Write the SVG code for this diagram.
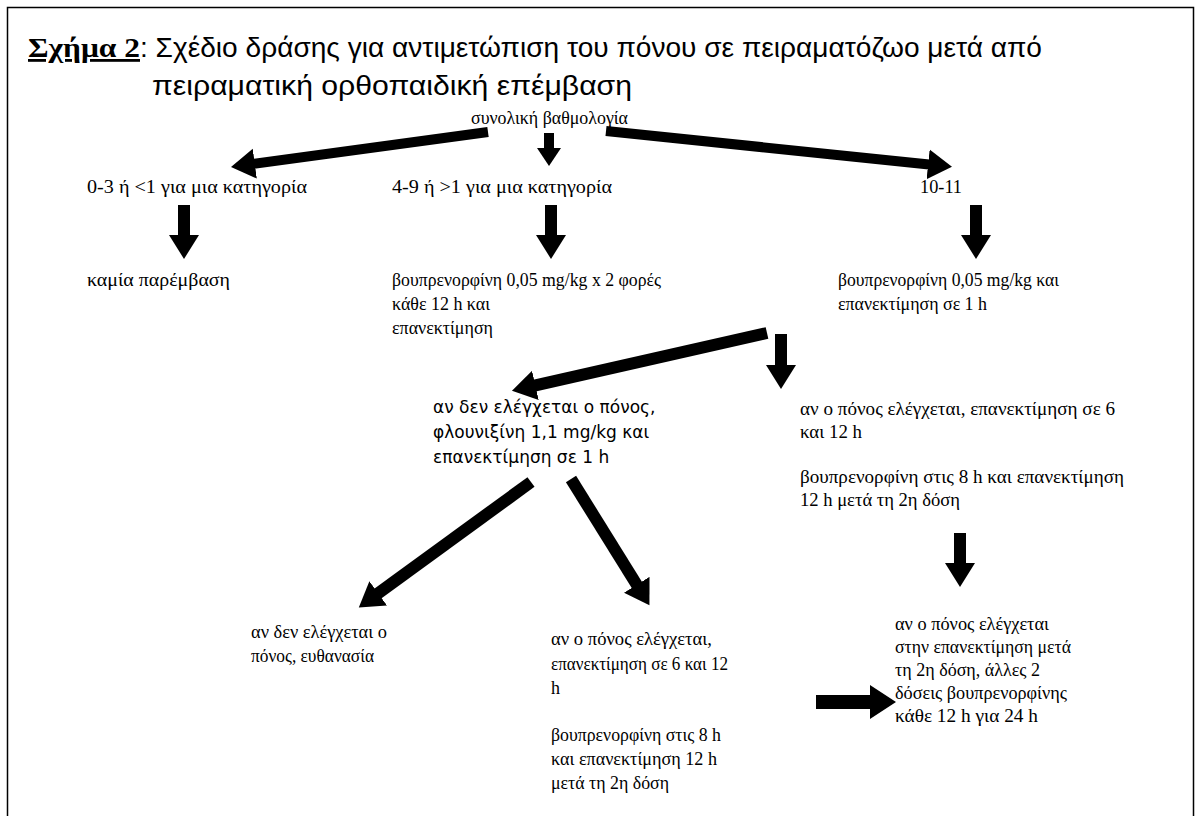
<svg xmlns="http://www.w3.org/2000/svg" width="1203" height="816" viewBox="0 0 1203 816">
<style>
.t{font-family:"Liberation Serif","DejaVu Serif","Times New Roman",serif;font-size:18px;fill:#000}
.v{font-family:"DejaVu Sans",Verdana,sans-serif;font-size:17px;fill:#000}
.ttl{font-family:"Liberation Sans",Arial,sans-serif;font-size:28px;fill:#000}
.tb{font-family:"Liberation Serif","DejaVu Serif",serif;font-size:28px;font-weight:bold;text-decoration:underline}
.c line{stroke:#000;fill:none}
</style>
<defs>
<marker id="hb" markerUnits="userSpaceOnUse" markerWidth="26" markerHeight="32" refX="1" refY="16" orient="auto" viewBox="0 0 26 32"><path d="M0,1 L24,16 L0,31 z" fill="#000"/></marker>
<marker id="hs" markerUnits="userSpaceOnUse" markerWidth="20" markerHeight="26" refX="1" refY="13" orient="auto" viewBox="0 0 20 26"><path d="M0,1 L18,13 L0,25 z" fill="#000"/></marker>
<marker id="hh" markerUnits="userSpaceOnUse" markerWidth="28" markerHeight="36" refX="1" refY="18" orient="auto" viewBox="0 0 28 36"><path d="M0,1 L26,18 L0,35 z" fill="#000"/></marker>
</defs>
<rect x="0" y="0" width="1203" height="816" fill="#fff"/>
<path d="M7.5,816 V7.5 H1193.5 V816" fill="none" stroke="#000" stroke-width="1.5"/>
<g id="title">
<text class="tb" x="28" y="57" textLength="112" lengthAdjust="spacingAndGlyphs">Σχήμα 2</text>
<text class="ttl" x="140" y="57" textLength="902" lengthAdjust="spacingAndGlyphs">: Σχέδιο δράσης για αντιμετώπιση του πόνου σε πειραματόζωο μετά από</text>
<text class="ttl" x="152" y="95" textLength="480" lengthAdjust="spacingAndGlyphs">πειραματική ορθοπαιδική επέμβαση</text>
</g>
<g class="c" id="connectors">
<line x1="488" y1="132" x2="253.8" y2="163.8" stroke-width="10" marker-end="url(#hb)"/>
<line x1="549" y1="133" x2="549" y2="149" stroke-width="10" marker-end="url(#hs)"/>
<line x1="606" y1="131" x2="929.1" y2="164.5" stroke-width="10" marker-end="url(#hb)"/>
<line x1="184" y1="205" x2="184" y2="236" stroke-width="12" marker-end="url(#hb)"/>
<line x1="551" y1="205" x2="551" y2="236" stroke-width="12" marker-end="url(#hb)"/>
<line x1="976" y1="205" x2="976" y2="236" stroke-width="12" marker-end="url(#hb)"/>
<line x1="767" y1="333" x2="534.4" y2="385.7" stroke-width="12" marker-end="url(#hb)"/>
<line x1="781" y1="334" x2="781" y2="366" stroke-width="12" marker-end="url(#hb)"/>
<line x1="960" y1="533" x2="960" y2="564" stroke-width="12" marker-end="url(#hb)"/>
<line x1="531" y1="482" x2="377.4" y2="593.9" stroke-width="12" marker-end="url(#hb)"/>
<line x1="571" y1="479" x2="637.3" y2="585.6" stroke-width="12" marker-end="url(#hb)"/>
<line x1="816" y1="702" x2="871" y2="702" stroke-width="14" marker-end="url(#hh)"/>
</g>
<g id="n-total"><text class="t" x="471" y="124" textLength="157" lengthAdjust="spacingAndGlyphs">συνολική βαθμολογία</text></g>
<g id="n-low"><text class="t" x="87" y="193" textLength="220" lengthAdjust="spacingAndGlyphs">0-3 ή &lt;1 για μια κατηγορία</text></g>
<g id="n-mid"><text class="t" x="392" y="193" textLength="220" lengthAdjust="spacingAndGlyphs">4-9 ή &gt;1 για μια κατηγορία</text></g>
<g id="n-high"><text class="t" x="920" y="193" textLength="42" lengthAdjust="spacingAndGlyphs">10-11</text></g>
<g id="n-none"><text class="t" x="87" y="286" textLength="143" lengthAdjust="spacingAndGlyphs">καμία παρέμβαση</text></g>
<g id="n-bup2"><text class="t" x="392" y="286" textLength="269" lengthAdjust="spacingAndGlyphs">βουπρενορφίνη 0,05 mg/kg x 2 φορές</text><text class="t" x="392" y="310" textLength="98" lengthAdjust="spacingAndGlyphs">κάθε 12 h και</text><text class="t" x="392" y="334" textLength="101" lengthAdjust="spacingAndGlyphs">επανεκτίμηση</text></g>
<g id="n-bup1"><text class="t" x="838" y="286" textLength="221" lengthAdjust="spacingAndGlyphs">βουπρενορφίνη 0,05 mg/kg και</text><text class="t" x="838" y="310" textLength="149" lengthAdjust="spacingAndGlyphs">επανεκτίμηση σε 1 h</text></g>
<g id="n-flu"><text class="v" x="433" y="413">αν δεν ελέγχεται ο πόνος,</text><text class="v" x="433" y="438">φλουνιξίνη 1,1 mg/kg και</text><text class="v" x="433" y="463">επανεκτίμηση σε 1 h</text></g>
<g id="n-ctrl1"><text class="t" x="800" y="415" textLength="315" lengthAdjust="spacingAndGlyphs">αν ο πόνος ελέγχεται, επανεκτίμηση σε 6</text><text class="t" x="800" y="438" textLength="62" lengthAdjust="spacingAndGlyphs">και 12 h</text><text class="t" x="800" y="483" textLength="324" lengthAdjust="spacingAndGlyphs">βουπρενορφίνη στις 8 h και επανεκτίμηση</text><text class="t" x="800" y="506" textLength="160" lengthAdjust="spacingAndGlyphs">12 h μετά τη 2η δόση</text></g>
<g id="n-euth"><text class="t" x="251" y="638" textLength="136" lengthAdjust="spacingAndGlyphs">αν δεν ελέγχεται ο</text><text class="t" x="251" y="662" textLength="123" lengthAdjust="spacingAndGlyphs">πόνος, ευθανασία</text></g>
<g id="n-ctrl2"><text class="t" x="551" y="645" textLength="161" lengthAdjust="spacingAndGlyphs">αν ο πόνος ελέγχεται,</text><text class="t" x="551" y="670" textLength="177" lengthAdjust="spacingAndGlyphs">επανεκτίμηση σε 6 και 12</text><text class="t" x="551" y="694">h</text><text class="t" x="551" y="741" textLength="170" lengthAdjust="spacingAndGlyphs">βουπρενορφίνη στις 8 h</text><text class="t" x="551" y="765" textLength="166" lengthAdjust="spacingAndGlyphs">και επανεκτίμηση 12 h</text><text class="t" x="551" y="789" textLength="118" lengthAdjust="spacingAndGlyphs">μετά τη 2η δόση</text></g>
<g id="n-final"><text class="t" x="895" y="630" textLength="154" lengthAdjust="spacingAndGlyphs">αν ο πόνος ελέγχεται</text><text class="t" x="895" y="653" textLength="176" lengthAdjust="spacingAndGlyphs">στην επανεκτίμηση μετά</text><text class="t" x="895" y="676" textLength="145" lengthAdjust="spacingAndGlyphs">τη 2η δόση, άλλες 2</text><text class="t" x="895" y="699" textLength="172" lengthAdjust="spacingAndGlyphs">δόσεις βουπρενορφίνης</text><text class="t" x="895" y="722" textLength="143" lengthAdjust="spacingAndGlyphs">κάθε 12 h για 24 h</text></g>
</svg>
